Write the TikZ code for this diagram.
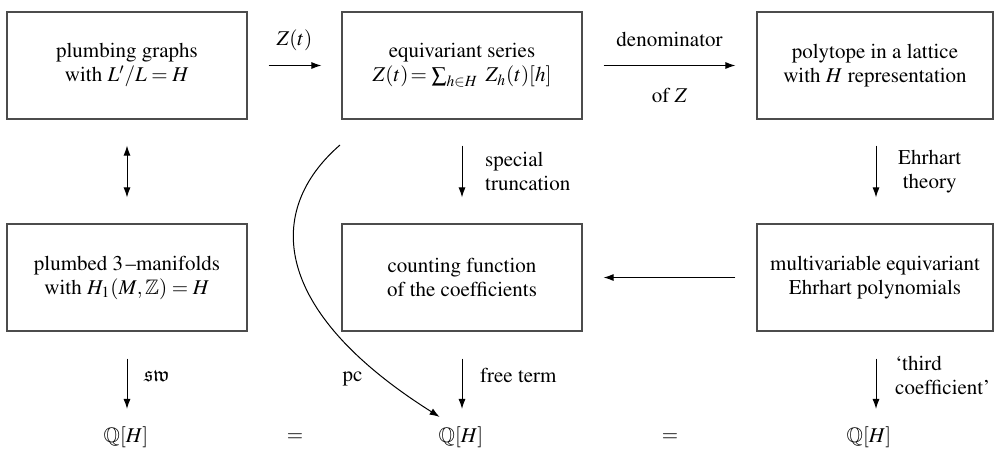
\documentclass[tikz,border=0pt]{standalone}
\usepackage[T1]{fontenc}
\usepackage{mathptmx}
\usepackage{amssymb}
\usetikzlibrary{arrows.meta,calc}

\begin{document}
\begin{tikzpicture}[
		x=0.5pt,y=-0.5pt,
		>={Latex[length=5pt,width=3.5pt]},
		every node/.style={font=\fontsize{10.5}{12}\selectfont},
		box/.style={draw=black!70, line width=0.6pt, minimum width=120pt,
			minimum height=53.5pt, align=center, inner sep=2pt},
		arr/.style={->, line width=0.5pt},
		lbl/.style={align=left}
		]
		\useasboundingbox (0,0) rectangle (994,450);
		
		% =========================
		% Top row
		% =========================
		\node[box] (graphs) at (127,65.5)
		{plumbing graphs\\with\ $L'/L=H$};
		\node[box] (series) at (462,65.5)
		{equivariant series\\$Z(t)\!=\sum_{h\in H}\ Z_h(t)[h]$};
		\node[box, minimum width=118pt] (polytope) at (875,65.5)
		{polytope in a lattice\\with\ $H$\ representation};
		
		% =========================
		% Middle row
		% =========================
		\node[box] (manifolds) at (127,277.5)
		{plumbed $3\,$--manifolds\\with\ $H_1(M,\mathbb{Z})=H$};
		\node[box] (counting) at (462,277.5)
		{counting function\\of the coefficients};
		\node[box, minimum width=118pt] (ehrhart) at (875,277.5)
		{multivariable equivariant\\Ehrhart polynomials};
		
		% =========================
		% Bottom row
		% =========================
		\node (qleft) at (126,437.5) {$\mathbb{Q}[H]$};
		\node (eqA) at (295,437.5) {$=$};
		\node (qmid) at (461,437.5) {$\mathbb{Q}[H]$};
		\node (eqB) at (670,437.5) {$=$};
		\node (qright) at (869,437.5) {$\mathbb{Q}[H]$};
		
		% horizontal connectors
		\draw[arr, shorten <=10.5pt, shorten >=10pt] (graphs.east) -- (series.west)
		node[midway, above=4pt] {$Z(t)$};
		\draw[arr, shorten <=10.5pt, shorten >=10.5pt] (series.east) -- (polytope.west)
		node[midway, above=6pt] {denominator}
		node[midway, below=8pt] {of $Z$};
		\draw[arr, shorten <=10.5pt, shorten >=10.5pt] (ehrhart.west) -- (counting.east);
		
		% vertical connectors
		\draw[<->, line width=0.5pt, shorten <=13pt, shorten >=13pt]
		(graphs.south) -- (manifolds.north);
		\draw[arr, shorten <=13pt, shorten >=13pt] (series.south) -- (counting.north)
		node[midway, right=8pt, lbl] {special\\truncation};
		\draw[arr, shorten <=13pt, shorten >=13pt] ([xshift=0.5pt]polytope.south) -- ([xshift=0.5pt]ehrhart.north)
		node[midway, right=7.5pt, align=center] {Ehrhart\\theory};
		
		\draw[arr, shorten <=13.5pt, shorten >=5.5pt] (manifolds.south) -- (manifolds.south |- qleft.north)
		node[midway, right=5pt] {$\mathfrak{sw}$};
		\draw[arr, shorten <=13.5pt, shorten >=5.5pt] (counting.south) -- (counting.south |- qmid.north)
		node[midway, right=5.5pt] {free term};
		\draw[arr, shorten <=13.5pt, shorten >=5.5pt] ([xshift=0.5pt]ehrhart.south) -- ([xshift=0.5pt]ehrhart.south |- qright.north)
		node[midway, right=6pt, lbl] {`third\\coefficient'};
		
		% curved connector
		\coordinate (pcstart) at (340,145);
		\draw[arr] (pcstart) .. controls (265,210) and (270,310) .. ([xshift=4pt,yshift=1.5pt]qmid.north west)
		node[pos=0.88, left=8pt] {pc};
	\end{tikzpicture}
\end{document}
